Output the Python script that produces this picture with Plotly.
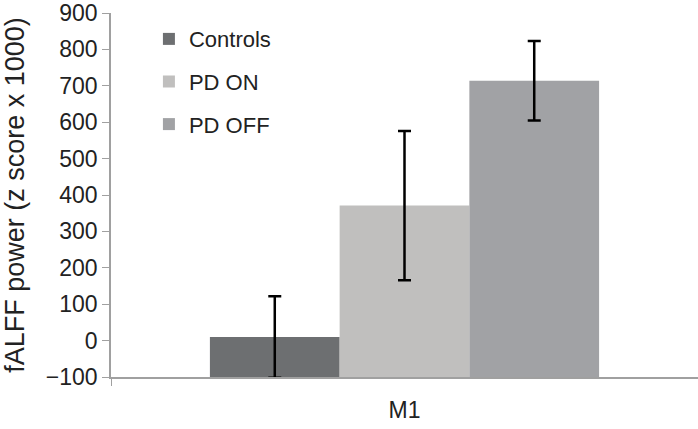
import plotly.graph_objects as go

categories = ["M1"]
groups = ["Controls", "PD ON", "PD OFF"]
means = [10, 371, 714]
errors = [112, 205, 109]
colors = ["#6d6f71", "#c0bfbe", "#a1a2a5"]
axis_min = -100

fig = go.Figure()
for i, g in enumerate(groups):
    fig.add_trace(go.Bar(
        x=categories, y=[means[i] - axis_min], base=axis_min, name=g, legendgroup=g,
        marker=dict(color=colors[i], line=dict(width=0)),
        error_y=dict(type="data", array=[errors[i]], color="black", thickness=2.5, width=6.5),
    ))

fig.update_layout(
    width=698, height=429,
    margin=dict(l=111, r=0, t=11, b=52),
    paper_bgcolor="white", plot_bgcolor="white",
    barmode="group", bargap=0.337, bargroupgap=0,
    font=dict(family="Liberation Sans, Arial, sans-serif", size=22, color="#222222"),
    showlegend=True,
    legend=dict(x=0.0646, y=0.986, xanchor="left", yanchor="top", bgcolor="rgba(0,0,0,0)",
                font=dict(size=22), tracegroupgap=11, itemwidth=30),
    xaxis=dict(showline=True, linecolor="#a0a0a0", linewidth=1.5, ticks="outside",
               tickson="boundaries", ticklen=7, tickcolor="#a0a0a0", showgrid=False,
               tickfont=dict(size=23), ticklabelstandoff=12),
    yaxis=dict(range=[axis_min, 900], dtick=100, showline=True, linecolor="#a0a0a0", linewidth=1.5,
               ticks="outside", ticklen=7, tickcolor="#a0a0a0", showgrid=False, zeroline=False,
               tickfont=dict(size=23), ticklabeloverflow="allow",
               title=dict(text="fALFF power (z score x 1000)", font=dict(size=27), standoff=13)),
)

fig.write_html("out.html", config={"displayModeBar": False},
               post_script="document.body.style.margin='0';document.body.style.overflow='hidden';")
